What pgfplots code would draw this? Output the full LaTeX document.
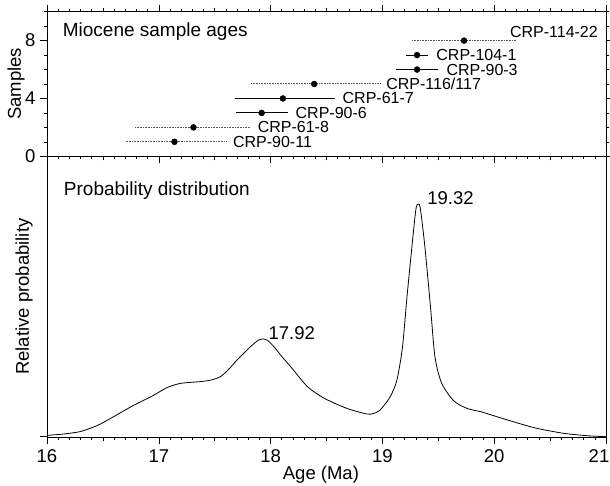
\documentclass[border=0pt]{standalone}
\usepackage{pgfplots}
\pgfplotsset{compat=1.18}
\usepackage{pgfplotstable}
\usepackage{fontspec}
\setmainfont{Liberation Sans}

\pgfplotstableread{
x y em ep
17.14 1 0.43 0.46
17.31 2 0.52 0.51
18.39 5 0.57 0.59
19.73 8 0.47 0.46
}\dottedbars
\pgfplotstableread{
x y em ep
17.92 3 0.23 0.24
18.11 4 0.43 0.47
19.31 6 0.19 0.19
19.31 7 0.10 0.10
}\solidbars
\pgfplotstableread{
x v
16.00 1.5
16.04 2
16.15 3
16.30 5.5
16.45 11.5
16.57 18.7
16.78 32
16.93 40.3
17.08 49.7
17.20 53.7
17.38 55.5
17.47 57
17.55 60.3
17.62 67
17.70 77
17.82 90.3
17.89 96.8
17.93 98
17.97 96.8
18.03 90.3
18.10 80.5
18.18 70.3
18.33 50.3
18.48 38.7
18.68 28.7
18.86 23
18.92 23.5
18.98 27
19.07 40.3
19.13 57
19.18 90.3
19.22 140.3
19.27 197
19.30 228
19.32 233
19.34 228
19.38 190.3
19.43 130.3
19.47 80.3
19.53 53.7
19.64 36
19.76 28.5
19.88 25.3
19.96 22.5
20.17 15.3
20.38 8.7
20.62 3.7
20.83 1.3
21.00 0.3
}\curve

\begin{document}
\begin{tikzpicture}
\pgfplotsset{
  common/.style={
    scale only axis, width=559bp,
    xmin=16, xmax=21,
    axis line style={line width=0.8bp},
    every tick/.style={black, line width=0.6bp},
    tick align=outside,
    xtick={16,17,...,21},
    minor x tick num=9,
    major tick length=7bp,
    minor tick length=2.5bp,
    extra x ticks={16.5,17.5,18.5,19.5,20.5},
    extra x tick labels={},
    extra x tick style={major tick length=4bp, tick align=outside},
    /pgf/number format/assume math mode=true,
    tick label style={font=\fontsize{18.5bp}{22bp}\selectfont},
    label style={font=\fontsize{18.5bp}{22bp}\selectfont},
  }
}
\begin{axis}[common, name=bot,
  height=280.7bp,
  ymin=0, ymax=280.7,
  xtick pos=bottom,
  xticklabels={16,17,18,19,20,{\hspace*{-14bp}21}},
  ytick={1}, yticklabels={}, ytick pos=left,
  minor y tick num=0,
  xticklabel style={yshift=-2bp},
  xlabel={Age (Ma)},
  xlabel style={at={(axis description cs:0.49,0)}, anchor=base, yshift=-42bp},
  ylabel={Relative probability},
  ylabel style={at={(axis description cs:-0.0411,0.5)}, anchor=center},
]
\addplot[black, line width=0.8bp, smooth, tension=0.45] table[x=x, y=v] {\curve};
\node[anchor=base west, inner sep=0, font=\fontsize{18.5bp}{22bp}\selectfont] at (axis cs:17.98,97) {17.92};
\node[anchor=base west, inner sep=0, font=\fontsize{18.5bp}{22bp}\selectfont] at (axis cs:19.40,232) {19.32};
\node[anchor=base west, inner sep=0, font=\fontsize{19bp}{22bp}\selectfont] at (axis description cs:0.030,0.862) {Probability distribution};
\end{axis}

\begin{axis}[common, name=top,
  at={(bot.north west)}, anchor=south west,
  height=144.6bp,
  ymin=0, ymax=10,
  xtick pos=both, xticklabels={},
  ytick={0,4,8}, minor ytick={1,2,3,5,6,7,9,10},
  ytick pos=both,
  ylabel={Samples},
  ylabel style={at={(axis description cs:-0.0555,0.5)}, anchor=center},
  yticklabel style={xshift=-1bp},
]
\addplot[only marks, mark=*, mark size=3bp, mark options={fill=black, draw=black}, black,
  error bars/.cd, x dir=both, x explicit,
  error bar style={line width=1bp, black!65, dash pattern=on 0.9bp off 0.7bp}, error mark=none]
  table[x=x, y=y, x error plus=ep, x error minus=em] {\dottedbars};
\addplot[only marks, mark=*, mark size=3bp, mark options={fill=black, draw=black}, black,
  error bars/.cd, x dir=both, x explicit,
  error bar style={line width=1bp, black}, error mark=none]
  table[x=x, y=y, x error plus=ep, x error minus=em] {\solidbars};
\begin{scope}[every node/.style={anchor=west, inner sep=0, font=\fontsize{16bp}{19bp}\selectfont}]
\node[xshift=7bp] at (axis cs:17.60,1) {CRP-90-11};
\node[xshift=6bp] at (axis cs:17.83,2) {CRP-61-8};
\node[xshift=7bp] at (axis cs:18.16,3) {CRP-90-6};
\node[xshift=7bp] at (axis cs:18.58,4) {CRP-61-7};
\node[xshift=6bp] at (axis cs:18.98,5) {CRP-116/117};
\node[xshift=8bp] at (axis cs:19.50,6) {CRP-90-3};
\node[xshift=8bp] at (axis cs:19.41,7) {CRP-104-1};
\node at (axis cs:20.14,8.62) {CRP-114-22};
\end{scope}
\node[anchor=base west, inner sep=0, font=\fontsize{19bp}{22bp}\selectfont] at (axis description cs:0.028,0.827) {Miocene sample ages};
\end{axis}
\pgfresetboundingbox
\path[use as bounding box] ([shift={(-47bp,-49bp)}]bot.south west) rectangle ([shift={(4bp,11.7bp)}]top.north east);
\end{tikzpicture}
\end{document}
